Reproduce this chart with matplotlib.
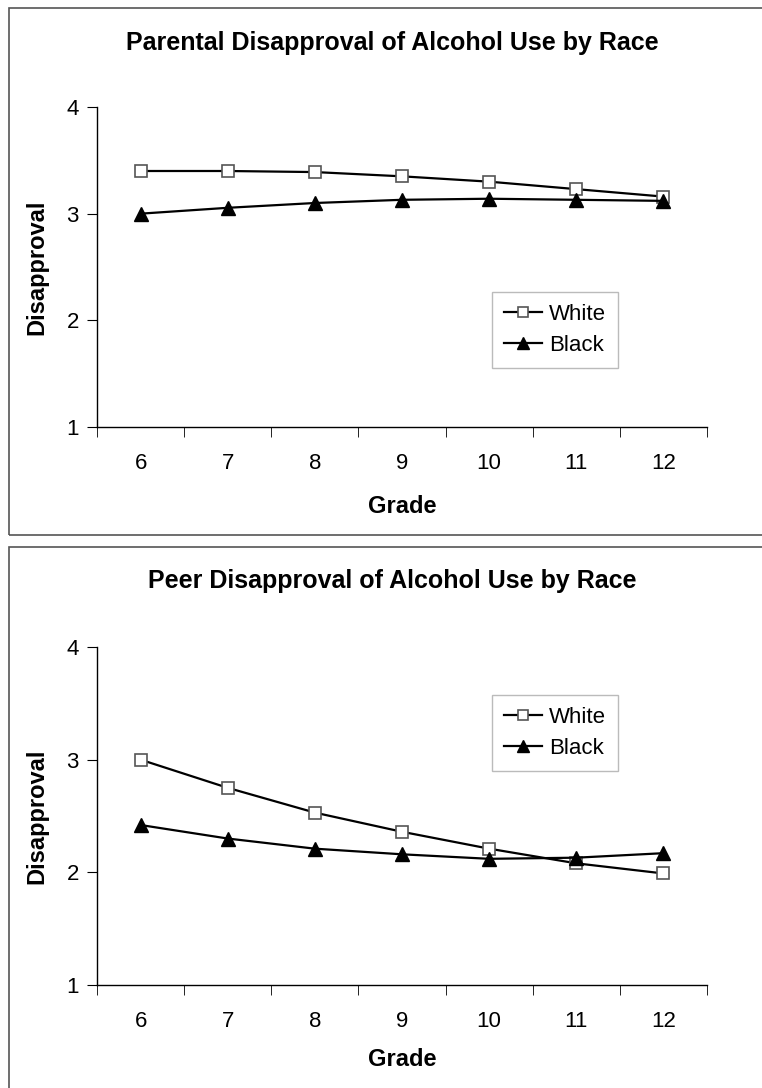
import matplotlib
matplotlib.use("Agg")
import matplotlib.pyplot as plt
from matplotlib.patches import Rectangle

plt.rcParams['font.family'] = ['Liberation Sans', 'DejaVu Sans']

# grades on the x axis
grades = [6, 7, 8, 9, 10, 11, 12]

# parental disapproval
parent_white = [3.40, 3.40, 3.39, 3.35, 3.30, 3.23, 3.16]
parent_black = [3.00, 3.055, 3.10, 3.13, 3.14, 3.13, 3.12]

# peer disapproval
peer_white = [3.00, 2.75, 2.53, 2.36, 2.21, 2.08, 1.99]
peer_black = [2.42, 2.30, 2.21, 2.16, 2.12, 2.13, 2.17]

series_names = ["White", "Black"]
titles = ["Parental Disapproval of Alcohol Use by Race",
          "Peer Disapproval of Alcohol Use by Race"]

W, H = 762, 1088
fig = plt.figure(figsize=(W / 100, H / 100), dpi=100)

# panel borders (right/bottom edges run off the picture)
fig.patches.append(Rectangle((9 / W, 1 - 535 / H), 800 / W, 527 / H,
                             transform=fig.transFigure, fill=False,
                             edgecolor="#555555", linewidth=1.2))
fig.patches.append(Rectangle((9 / W, 1 - 1120 / H), 800 / W, 573 / H,
                             transform=fig.transFigure, fill=False,
                             edgecolor="#555555", linewidth=1.2))

ax1 = fig.add_axes([97 / W, 1 - 427 / H, 610 / W, 320 / H])
ax2 = fig.add_axes([97 / W, 1 - 985 / H, 610 / W, 338 / H])

panels = [
    (ax1, parent_white, parent_black, titles[0], 43, 292, -0.2125),
    (ax2, peer_white, peer_black, titles[1], 581, 695, -0.186),
]

for ax, white, black, title, title_y, leg_y, xlab_y in panels:
    lw, = ax.plot(grades, white, color="black", linewidth=1.6, marker="s",
                  markersize=9, markerfacecolor="white",
                  markeredgecolor="#555555", markeredgewidth=1.2,
                  label=series_names[0])
    lb, = ax.plot(grades, black, color="black", linewidth=1.6, marker="^",
                  markersize=10, markerfacecolor="black",
                  markeredgecolor="black", label=series_names[1])

    ax.set_xlim(5.5, 12.5)
    ax.set_ylim(1, 4)
    ax.set_yticks([1, 2, 3, 4])
    ax.set_xticks(grades)
    ax.set_xticks([g - 0.5 for g in grades] + [12.5], minor=True)
    ax.tick_params(axis="x", which="major", length=0, pad=19, labelsize=16)
    ax.tick_params(axis="x", which="minor", length=7, direction="out")
    ax.tick_params(axis="y", length=7, direction="out", pad=6, labelsize=16)

    for s in ["top", "right"]:
        ax.spines[s].set_visible(False)
    ax.spines["left"].set_linewidth(1.0)
    ax.spines["bottom"].set_linewidth(1.0)

    ax.set_ylabel("Disapproval", fontsize=17, fontweight="bold")
    ax.yaxis.set_label_coords(-0.079, 0.5)
    ax.set_xlabel("Grade", fontsize=17, fontweight="bold")
    ax.xaxis.set_label_coords(0.5, xlab_y)

    fig.text(392 / W, 1 - title_y / H, title, ha="center", va="center",
             fontsize=18, fontweight="bold")

    leg = fig.legend(handles=[lw, lb], loc="upper left",
                     bbox_to_anchor=(492 / W, 1 - leg_y / H),
                     fontsize=16, frameon=True, fancybox=False,
                     handlelength=1.7, handletextpad=0.3,
                     borderpad=0.55, labelspacing=0.45,
                     borderaxespad=0, markerscale=0.8)
    leg.get_frame().set_edgecolor("#aaaaaa")
    leg.get_frame().set_linewidth(1.0)

fig.savefig("out.png", dpi=100)
